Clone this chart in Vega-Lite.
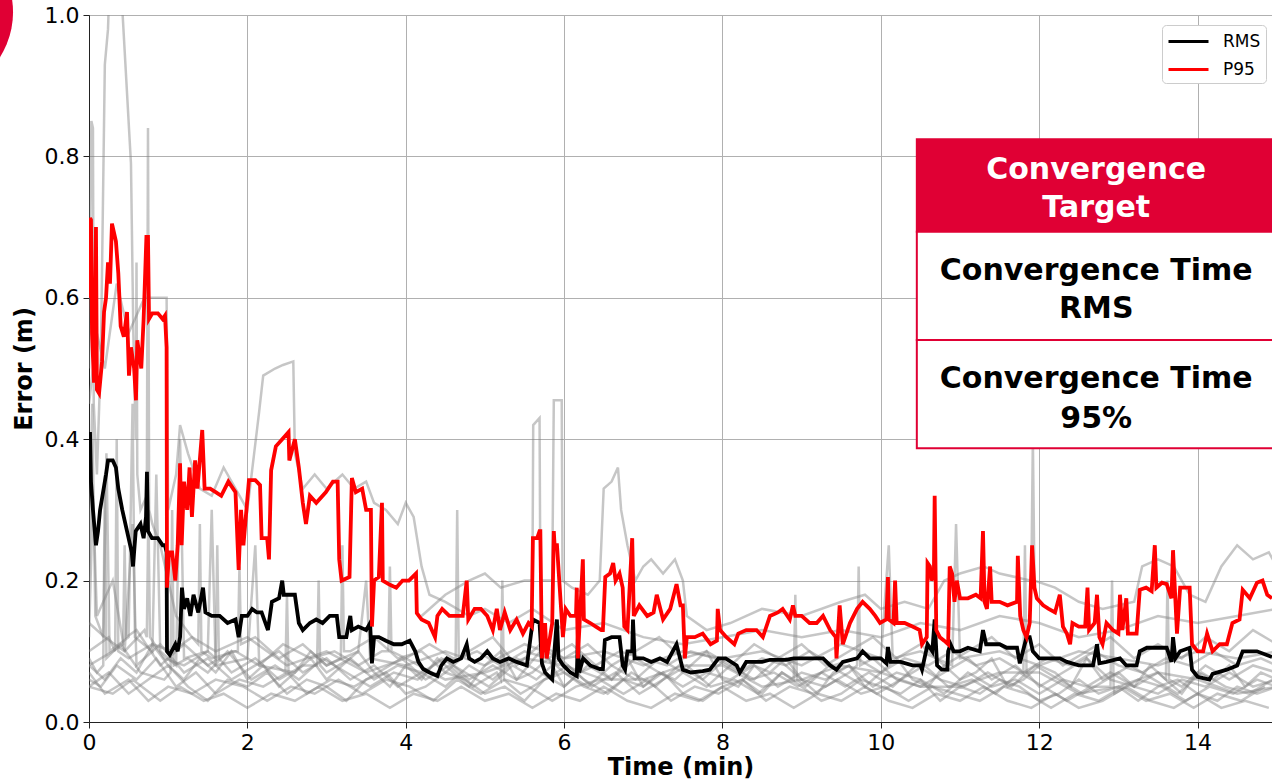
{
"$schema": "https://vega.github.io/schema/vega-lite/v6.json",
"width": 1183, "height": 707,
"autosize": {"type": "none"},
"padding": {"left": 89, "top": 15, "right": 0, "bottom": 60},
"config": {
 "font": "DejaVu Sans",
 "view": {"stroke": "#222222", "strokeWidth": 1},
 "axis": {"labelFont": "DejaVu Sans", "labelFontSize": 22, "labelColor": "#000000", "titleFont": "DejaVu Sans", "titleFontSize": 24, "titleFontWeight": "bold", "titleColor": "#000000", "domainColor": "#222222", "tickColor": "#222222", "tickSize": 6, "gridColor": "#b0b0b0", "gridWidth": 1, "labelPadding": 4}
},
"datasets": {
 "runs": [
{"run":"g1","t":0,"err":0.14},{"run":"g1","t":0.2,"err":0.12},{"run":"g1","t":0.45,"err":0.10},{"run":"g1","t":0.7,"err":0.13},{"run":"g1","t":0.95,"err":0.09},{"run":"g1","t":1.2,"err":0.08},{"run":"g1","t":1.5,"err":0.10},{"run":"g1","t":1.8,"err":0.07},{"run":"g1","t":2.1,"err":0.09},{"run":"g1","t":2.4,"err":0.06},{"run":"g1","t":2.7,"err":0.08},{"run":"g1","t":3.0,"err":0.07},{"run":"g1","t":3.3,"err":0.09},{"run":"g1","t":3.6,"err":0.06},{"run":"g1","t":3.9,"err":0.08},{"run":"g1","t":4.2,"err":0.07},{"run":"g1","t":4.5,"err":0.05},{"run":"g1","t":4.8,"err":0.08},{"run":"g1","t":5.1,"err":0.06},{"run":"g1","t":5.4,"err":0.09},{"run":"g1","t":5.7,"err":0.07},{"run":"g1","t":6.0,"err":0.05},{"run":"g1","t":6.3,"err":0.08},{"run":"g1","t":6.6,"err":0.06},{"run":"g1","t":6.9,"err":0.09},{"run":"g1","t":7.2,"err":0.07},{"run":"g1","t":7.5,"err":0.05},{"run":"g1","t":7.8,"err":0.07},{"run":"g1","t":8.1,"err":0.06},{"run":"g1","t":8.4,"err":0.08},{"run":"g1","t":8.7,"err":0.05},{"run":"g1","t":9.0,"err":0.07},{"run":"g1","t":9.3,"err":0.06},{"run":"g1","t":9.6,"err":0.08},{"run":"g1","t":9.9,"err":0.05},{"run":"g1","t":10.2,"err":0.07},{"run":"g1","t":10.5,"err":0.06},{"run":"g1","t":10.8,"err":0.04},{"run":"g1","t":11.1,"err":0.07},{"run":"g1","t":11.4,"err":0.05},{"run":"g1","t":11.7,"err":0.06},{"run":"g1","t":12.0,"err":0.04},{"run":"g1","t":12.3,"err":0.06},{"run":"g1","t":12.6,"err":0.05},{"run":"g1","t":12.9,"err":0.07},{"run":"g1","t":13.2,"err":0.05},{"run":"g1","t":13.5,"err":0.04},{"run":"g1","t":13.8,"err":0.06},{"run":"g1","t":14.1,"err":0.05},{"run":"g1","t":14.4,"err":0.07},{"run":"g1","t":14.7,"err":0.05},{"run":"g1","t":15.0,"err":0.06},
{"run":"g1","t":0.73,"err":0.12},{"run":"g1","t":0.75,"err":0.30},{"run":"g1","t":0.77,"err":0.12},{"run":"g1","t":1.6,"err":0.09},{"run":"g1","t":1.62,"err":0.25},{"run":"g1","t":1.64,"err":0.09},{"run":"g1","t":2.88,"err":0.08},{"run":"g1","t":2.9,"err":0.2},{"run":"g1","t":2.92,"err":0.08},
{"run":"g2","t":0,"err":0.06},{"run":"g2","t":0.15,"err":0.05},{"run":"g2","t":0.35,"err":0.08},{"run":"g2","t":0.6,"err":0.06},{"run":"g2","t":0.85,"err":0.09},{"run":"g2","t":1.1,"err":0.05},{"run":"g2","t":1.35,"err":0.07},{"run":"g2","t":1.6,"err":0.04},{"run":"g2","t":1.9,"err":0.06},{"run":"g2","t":2.2,"err":0.05},{"run":"g2","t":2.5,"err":0.07},{"run":"g2","t":2.75,"err":0.04},{"run":"g2","t":3.05,"err":0.06},{"run":"g2","t":3.35,"err":0.05},{"run":"g2","t":3.65,"err":0.07},{"run":"g2","t":3.95,"err":0.09},{"run":"g2","t":4.25,"err":0.06},{"run":"g2","t":4.55,"err":0.08},{"run":"g2","t":4.85,"err":0.05},{"run":"g2","t":5.15,"err":0.07},{"run":"g2","t":5.45,"err":0.04},{"run":"g2","t":5.75,"err":0.06},{"run":"g2","t":6.05,"err":0.08},{"run":"g2","t":6.35,"err":0.05},{"run":"g2","t":6.65,"err":0.07},{"run":"g2","t":6.95,"err":0.04},{"run":"g2","t":7.25,"err":0.06},{"run":"g2","t":7.55,"err":0.08},{"run":"g2","t":7.85,"err":0.05},{"run":"g2","t":8.15,"err":0.06},{"run":"g2","t":8.45,"err":0.04},{"run":"g2","t":8.75,"err":0.07},{"run":"g2","t":9.05,"err":0.05},{"run":"g2","t":9.35,"err":0.08},{"run":"g2","t":9.65,"err":0.06},{"run":"g2","t":9.95,"err":0.04},{"run":"g2","t":10.25,"err":0.06},{"run":"g2","t":10.55,"err":0.08},{"run":"g2","t":10.85,"err":0.05},{"run":"g2","t":11.15,"err":0.06},{"run":"g2","t":11.45,"err":0.04},{"run":"g2","t":11.75,"err":0.07},{"run":"g2","t":12.05,"err":0.05},{"run":"g2","t":12.35,"err":0.03},{"run":"g2","t":12.65,"err":0.05},{"run":"g2","t":12.95,"err":0.04},{"run":"g2","t":13.25,"err":0.06},{"run":"g2","t":13.55,"err":0.05},{"run":"g2","t":13.85,"err":0.03},{"run":"g2","t":14.15,"err":0.05},{"run":"g2","t":14.45,"err":0.04},{"run":"g2","t":14.75,"err":0.06},{"run":"g2","t":15.0,"err":0.05},
{"run":"g2","t":5.2,"err":0.06},{"run":"g2","t":5.22,"err":0.2},{"run":"g2","t":5.24,"err":0.06},{"run":"g2","t":8.9,"err":0.06},{"run":"g2","t":8.92,"err":0.18},{"run":"g2","t":8.94,"err":0.06},{"run":"g2","t":12.9,"err":0.05},{"run":"g2","t":12.92,"err":0.2},{"run":"g2","t":12.94,"err":0.05},
{"run":"g3","t":0,"err":0.10},{"run":"g3","t":0.25,"err":0.12},{"run":"g3","t":0.5,"err":0.09},{"run":"g3","t":0.8,"err":0.11},{"run":"g3","t":1.05,"err":0.10},{"run":"g3","t":1.3,"err":0.12},{"run":"g3","t":1.55,"err":0.09},{"run":"g3","t":1.85,"err":0.10},{"run":"g3","t":2.15,"err":0.08},{"run":"g3","t":2.45,"err":0.11},{"run":"g3","t":2.8,"err":0.09},{"run":"g3","t":3.1,"err":0.10},{"run":"g3","t":3.4,"err":0.08},{"run":"g3","t":3.7,"err":0.10},{"run":"g3","t":4.0,"err":0.09},{"run":"g3","t":4.3,"err":0.11},{"run":"g3","t":4.6,"err":0.09},{"run":"g3","t":4.9,"err":0.10},{"run":"g3","t":5.2,"err":0.08},{"run":"g3","t":5.5,"err":0.10},{"run":"g3","t":5.8,"err":0.09},{"run":"g3","t":6.1,"err":0.11},{"run":"g3","t":6.4,"err":0.08},{"run":"g3","t":6.7,"err":0.10},{"run":"g3","t":7.0,"err":0.09},{"run":"g3","t":7.3,"err":0.08},{"run":"g3","t":7.6,"err":0.10},{"run":"g3","t":7.9,"err":0.09},{"run":"g3","t":8.2,"err":0.07},{"run":"g3","t":8.5,"err":0.09},{"run":"g3","t":8.8,"err":0.08},{"run":"g3","t":9.1,"err":0.10},{"run":"g3","t":9.4,"err":0.08},{"run":"g3","t":9.7,"err":0.09},{"run":"g3","t":10.0,"err":0.07},{"run":"g3","t":10.3,"err":0.09},{"run":"g3","t":10.6,"err":0.08},{"run":"g3","t":10.9,"err":0.10},{"run":"g3","t":11.2,"err":0.08},{"run":"g3","t":11.5,"err":0.09},{"run":"g3","t":11.8,"err":0.07},{"run":"g3","t":12.1,"err":0.09},{"run":"g3","t":12.4,"err":0.08},{"run":"g3","t":12.7,"err":0.10},{"run":"g3","t":13.0,"err":0.08},{"run":"g3","t":13.3,"err":0.07},{"run":"g3","t":13.6,"err":0.09},{"run":"g3","t":13.9,"err":0.08},{"run":"g3","t":14.2,"err":0.10},{"run":"g3","t":14.5,"err":0.08},{"run":"g3","t":14.8,"err":0.09},{"run":"g3","t":15.0,"err":0.08},
{"run":"g3","t":0.33,"err":0.1},{"run":"g3","t":0.35,"err":0.4},{"run":"g3","t":0.37,"err":0.1},{"run":"g3","t":1.38,"err":0.11},{"run":"g3","t":1.4,"err":0.28},{"run":"g3","t":1.42,"err":0.1},{"run":"g3","t":3.78,"err":0.1},{"run":"g3","t":3.8,"err":0.22},{"run":"g3","t":3.82,"err":0.1},{"run":"g3","t":4.63,"err":0.09},{"run":"g3","t":4.65,"err":0.3},{"run":"g3","t":4.67,"err":0.09},
{"run":"g4","t":0,"err":0.05},{"run":"g4","t":0.3,"err":0.04},{"run":"g4","t":0.55,"err":0.06},{"run":"g4","t":0.9,"err":0.03},{"run":"g4","t":1.15,"err":0.05},{"run":"g4","t":1.45,"err":0.03},{"run":"g4","t":1.7,"err":0.04},{"run":"g4","t":2.0,"err":0.02},{"run":"g4","t":2.3,"err":0.04},{"run":"g4","t":2.6,"err":0.03},{"run":"g4","t":2.9,"err":0.05},{"run":"g4","t":3.2,"err":0.03},{"run":"g4","t":3.5,"err":0.04},{"run":"g4","t":3.8,"err":0.02},{"run":"g4","t":4.1,"err":0.04},{"run":"g4","t":4.4,"err":0.03},{"run":"g4","t":4.7,"err":0.05},{"run":"g4","t":5.0,"err":0.03},{"run":"g4","t":5.3,"err":0.04},{"run":"g4","t":5.6,"err":0.02},{"run":"g4","t":5.9,"err":0.04},{"run":"g4","t":6.2,"err":0.03},{"run":"g4","t":6.5,"err":0.05},{"run":"g4","t":6.8,"err":0.03},{"run":"g4","t":7.1,"err":0.02},{"run":"g4","t":7.4,"err":0.04},{"run":"g4","t":7.7,"err":0.03},{"run":"g4","t":8.0,"err":0.05},{"run":"g4","t":8.3,"err":0.03},{"run":"g4","t":8.6,"err":0.04},{"run":"g4","t":8.9,"err":0.02},{"run":"g4","t":9.2,"err":0.04},{"run":"g4","t":9.5,"err":0.03},{"run":"g4","t":9.8,"err":0.05},{"run":"g4","t":10.1,"err":0.03},{"run":"g4","t":10.4,"err":0.02},{"run":"g4","t":10.7,"err":0.04},{"run":"g4","t":11.0,"err":0.03},{"run":"g4","t":11.3,"err":0.05},{"run":"g4","t":11.6,"err":0.03},{"run":"g4","t":11.9,"err":0.02},{"run":"g4","t":12.2,"err":0.04},{"run":"g4","t":12.5,"err":0.02},{"run":"g4","t":12.8,"err":0.03},{"run":"g4","t":13.1,"err":0.05},{"run":"g4","t":13.4,"err":0.03},{"run":"g4","t":13.7,"err":0.02},{"run":"g4","t":14.0,"err":0.04},{"run":"g4","t":14.3,"err":0.02},{"run":"g4","t":14.6,"err":0.03},{"run":"g4","t":14.9,"err":0.02},
{"run":"g5","t":0,"err":0.09},{"run":"g5","t":0.1,"err":0.07},{"run":"g5","t":0.4,"err":0.11},{"run":"g5","t":0.65,"err":0.07},{"run":"g5","t":0.95,"err":0.06},{"run":"g5","t":1.25,"err":0.09},{"run":"g5","t":1.5,"err":0.07},{"run":"g5","t":1.75,"err":0.10},{"run":"g5","t":2.05,"err":0.06},{"run":"g5","t":2.35,"err":0.08},{"run":"g5","t":2.65,"err":0.06},{"run":"g5","t":2.95,"err":0.09},{"run":"g5","t":3.25,"err":0.07},{"run":"g5","t":3.55,"err":0.05},{"run":"g5","t":3.85,"err":0.07},{"run":"g5","t":4.15,"err":0.06},{"run":"g5","t":4.45,"err":0.09},{"run":"g5","t":4.75,"err":0.07},{"run":"g5","t":5.05,"err":0.05},{"run":"g5","t":5.35,"err":0.08},{"run":"g5","t":5.65,"err":0.06},{"run":"g5","t":5.95,"err":0.09},{"run":"g5","t":6.25,"err":0.06},{"run":"g5","t":6.55,"err":0.04},{"run":"g5","t":6.85,"err":0.07},{"run":"g5","t":7.15,"err":0.05},{"run":"g5","t":7.45,"err":0.08},{"run":"g5","t":7.75,"err":0.06},{"run":"g5","t":8.05,"err":0.09},{"run":"g5","t":8.35,"err":0.06},{"run":"g5","t":8.65,"err":0.07},{"run":"g5","t":8.95,"err":0.05},{"run":"g5","t":9.25,"err":0.07},{"run":"g5","t":9.55,"err":0.05},{"run":"g5","t":9.85,"err":0.07},{"run":"g5","t":10.15,"err":0.05},{"run":"g5","t":10.45,"err":0.08},{"run":"g5","t":10.75,"err":0.06},{"run":"g5","t":11.05,"err":0.05},{"run":"g5","t":11.35,"err":0.07},{"run":"g5","t":11.65,"err":0.05},{"run":"g5","t":11.95,"err":0.08},{"run":"g5","t":12.25,"err":0.06},{"run":"g5","t":12.55,"err":0.04},{"run":"g5","t":12.85,"err":0.06},{"run":"g5","t":13.15,"err":0.08},{"run":"g5","t":13.45,"err":0.06},{"run":"g5","t":13.75,"err":0.04},{"run":"g5","t":14.05,"err":0.07},{"run":"g5","t":14.35,"err":0.05},{"run":"g5","t":14.65,"err":0.04},{"run":"g5","t":14.95,"err":0.06},
{"run":"g5","t":0.18,"err":0.08},{"run":"g5","t":0.2,"err":0.35},{"run":"g5","t":0.22,"err":0.09},{"run":"g5","t":1.03,"err":0.07},{"run":"g5","t":1.05,"err":0.3},{"run":"g5","t":1.07,"err":0.08},{"run":"g5","t":2.48,"err":0.07},{"run":"g5","t":2.5,"err":0.18},{"run":"g5","t":2.52,"err":0.07},
{"run":"g6","t":0,"err":0.12},{"run":"g6","t":0.05,"err":0.32},{"run":"g6","t":0.1,"err":0.15},{"run":"g6","t":0.3,"err":0.2},{"run":"g6","t":0.45,"err":0.1},{"run":"g6","t":0.55,"err":0.28},{"run":"g6","t":0.6,"err":0.08},{"run":"g6","t":0.9,"err":0.11},{"run":"g6","t":1.2,"err":0.07},{"run":"g6","t":1.5,"err":0.09},{"run":"g6","t":1.8,"err":0.06},{"run":"g6","t":2.1,"err":0.08},{"run":"g6","t":2.4,"err":0.1},{"run":"g6","t":2.7,"err":0.07},{"run":"g6","t":3.0,"err":0.09},{"run":"g6","t":3.3,"err":0.06},{"run":"g6","t":3.6,"err":0.08},{"run":"g6","t":3.9,"err":0.05},{"run":"g6","t":4.2,"err":0.07},{"run":"g6","t":4.5,"err":0.09},{"run":"g6","t":4.8,"err":0.06},{"run":"g6","t":5.1,"err":0.08},{"run":"g6","t":5.4,"err":0.06},{"run":"g6","t":5.7,"err":0.1},{"run":"g6","t":6.0,"err":0.07},{"run":"g6","t":6.3,"err":0.05},{"run":"g6","t":6.6,"err":0.08},{"run":"g6","t":6.9,"err":0.06},{"run":"g6","t":7.2,"err":0.09},{"run":"g6","t":7.5,"err":0.07},{"run":"g6","t":7.8,"err":0.05},{"run":"g6","t":8.1,"err":0.08},{"run":"g6","t":8.4,"err":0.06},{"run":"g6","t":8.7,"err":0.09},{"run":"g6","t":9.0,"err":0.06},{"run":"g6","t":9.3,"err":0.05},{"run":"g6","t":9.6,"err":0.07},{"run":"g6","t":9.9,"err":0.09},{"run":"g6","t":10.2,"err":0.06},{"run":"g6","t":10.5,"err":0.05},{"run":"g6","t":10.8,"err":0.07},{"run":"g6","t":11.1,"err":0.09},{"run":"g6","t":11.4,"err":0.06},{"run":"g6","t":11.7,"err":0.08},{"run":"g6","t":12.0,"err":0.05},{"run":"g6","t":12.3,"err":0.07},{"run":"g6","t":12.6,"err":0.09},{"run":"g6","t":12.9,"err":0.06},{"run":"g6","t":13.2,"err":0.05},{"run":"g6","t":13.5,"err":0.07},{"run":"g6","t":13.8,"err":0.05},{"run":"g6","t":14.1,"err":0.08},{"run":"g6","t":14.4,"err":0.06},{"run":"g6","t":14.7,"err":0.08},{"run":"g6","t":15.0,"err":0.07},
{"run":"g6","t":9.7,"err":0.08},{"run":"g6","t":9.72,"err":0.22},{"run":"g6","t":9.74,"err":0.08},{"run":"g6","t":11.8,"err":0.07},{"run":"g6","t":11.82,"err":0.25},{"run":"g6","t":11.84,"err":0.07},{"run":"g6","t":13.6,"err":0.06},{"run":"g6","t":13.62,"err":0.2},{"run":"g6","t":13.64,"err":0.06},
{"run":"g7","t":0,"err":0.07},{"run":"g7","t":0.2,"err":0.04},{"run":"g7","t":0.5,"err":0.06},{"run":"g7","t":0.75,"err":0.03},{"run":"g7","t":1.0,"err":0.05},{"run":"g7","t":1.3,"err":0.04},{"run":"g7","t":1.6,"err":0.06},{"run":"g7","t":1.95,"err":0.05},{"run":"g7","t":2.25,"err":0.03},{"run":"g7","t":2.55,"err":0.05},{"run":"g7","t":2.85,"err":0.04},{"run":"g7","t":3.15,"err":0.06},{"run":"g7","t":3.45,"err":0.04},{"run":"g7","t":3.75,"err":0.06},{"run":"g7","t":4.05,"err":0.05},{"run":"g7","t":4.35,"err":0.03},{"run":"g7","t":4.65,"err":0.06},{"run":"g7","t":4.95,"err":0.04},{"run":"g7","t":5.25,"err":0.06},{"run":"g7","t":5.55,"err":0.05},{"run":"g7","t":5.85,"err":0.03},{"run":"g7","t":6.15,"err":0.05},{"run":"g7","t":6.45,"err":0.06},{"run":"g7","t":6.75,"err":0.04},{"run":"g7","t":7.05,"err":0.06},{"run":"g7","t":7.35,"err":0.03},{"run":"g7","t":7.65,"err":0.05},{"run":"g7","t":7.95,"err":0.04},{"run":"g7","t":8.25,"err":0.06},{"run":"g7","t":8.55,"err":0.03},{"run":"g7","t":8.85,"err":0.05},{"run":"g7","t":9.15,"err":0.04},{"run":"g7","t":9.45,"err":0.06},{"run":"g7","t":9.75,"err":0.04},{"run":"g7","t":10.05,"err":0.05},{"run":"g7","t":10.35,"err":0.03},{"run":"g7","t":10.65,"err":0.05},{"run":"g7","t":10.95,"err":0.04},{"run":"g7","t":11.25,"err":0.03},{"run":"g7","t":11.55,"err":0.05},{"run":"g7","t":11.85,"err":0.04},{"run":"g7","t":12.15,"err":0.02},{"run":"g7","t":12.45,"err":0.04},{"run":"g7","t":12.75,"err":0.03},{"run":"g7","t":13.05,"err":0.05},{"run":"g7","t":13.35,"err":0.03},{"run":"g7","t":13.65,"err":0.04},{"run":"g7","t":13.95,"err":0.02},{"run":"g7","t":14.25,"err":0.04},{"run":"g7","t":14.55,"err":0.03},{"run":"g7","t":14.85,"err":0.05},
{"run":"g8","t":0,"err":0.08},{"run":"g8","t":0.3,"err":0.1},{"run":"g8","t":0.6,"err":0.13},{"run":"g8","t":0.9,"err":0.08},{"run":"g8","t":1.2,"err":0.11},{"run":"g8","t":1.5,"err":0.08},{"run":"g8","t":1.8,"err":0.1},{"run":"g8","t":2.1,"err":0.12},{"run":"g8","t":2.4,"err":0.09},{"run":"g8","t":2.7,"err":0.11},{"run":"g8","t":3.0,"err":0.08},{"run":"g8","t":3.3,"err":0.1},{"run":"g8","t":3.6,"err":0.12},{"run":"g8","t":3.9,"err":0.09},{"run":"g8","t":4.2,"err":0.1},{"run":"g8","t":4.5,"err":0.07},{"run":"g8","t":4.8,"err":0.1},{"run":"g8","t":5.1,"err":0.12},{"run":"g8","t":5.4,"err":0.08},{"run":"g8","t":5.7,"err":0.11},{"run":"g8","t":6.0,"err":0.09},{"run":"g8","t":6.3,"err":0.11},{"run":"g8","t":6.6,"err":0.08},{"run":"g8","t":6.9,"err":0.1},{"run":"g8","t":7.2,"err":0.12},{"run":"g8","t":7.5,"err":0.09},{"run":"g8","t":7.8,"err":0.1},{"run":"g8","t":8.1,"err":0.08},{"run":"g8","t":8.4,"err":0.11},{"run":"g8","t":8.7,"err":0.09},{"run":"g8","t":9.0,"err":0.11},{"run":"g8","t":9.3,"err":0.08},{"run":"g8","t":9.6,"err":0.1},{"run":"g8","t":9.9,"err":0.12},{"run":"g8","t":10.2,"err":0.09},{"run":"g8","t":10.5,"err":0.11},{"run":"g8","t":10.8,"err":0.08},{"run":"g8","t":11.1,"err":0.1},{"run":"g8","t":11.4,"err":0.12},{"run":"g8","t":11.7,"err":0.09},{"run":"g8","t":12.0,"err":0.11},{"run":"g8","t":12.3,"err":0.08},{"run":"g8","t":12.6,"err":0.1},{"run":"g8","t":12.9,"err":0.12},{"run":"g8","t":13.2,"err":0.09},{"run":"g8","t":13.5,"err":0.11},{"run":"g8","t":13.8,"err":0.09},{"run":"g8","t":14.1,"err":0.12},{"run":"g8","t":14.4,"err":0.1},{"run":"g8","t":14.7,"err":0.13},{"run":"g8","t":15.0,"err":0.11},
{"run":"g8","t":0.43,"err":0.11},{"run":"g8","t":0.45,"err":0.25},{"run":"g8","t":0.47,"err":0.12},{"run":"g8","t":1.88,"err":0.1},{"run":"g8","t":1.9,"err":0.22},{"run":"g8","t":1.92,"err":0.11},{"run":"g8","t":3.18,"err":0.09},{"run":"g8","t":3.2,"err":0.25},{"run":"g8","t":3.22,"err":0.1},
{"run":"g9","t":0,"err":0.08},{"run":"g9","t":0.2,"err":0.06},{"run":"g9","t":0.4,"err":0.09},{"run":"g9","t":0.6,"err":0.07},{"run":"g9","t":0.8,"err":0.11},{"run":"g9","t":1.0,"err":0.08},{"run":"g9","t":1.2,"err":0.06},{"run":"g9","t":1.4,"err":0.09},{"run":"g9","t":1.6,"err":0.07},{"run":"g9","t":1.8,"err":0.1},{"run":"g9","t":2.0,"err":0.06},{"run":"g9","t":2.2,"err":0.08},{"run":"g9","t":2.4,"err":0.05},{"run":"g9","t":2.6,"err":0.07},{"run":"g9","t":2.8,"err":0.09},{"run":"g9","t":3.0,"err":0.06},{"run":"g9","t":3.2,"err":0.08},{"run":"g9","t":3.4,"err":0.1},{"run":"g9","t":3.6,"err":0.07},{"run":"g9","t":3.8,"err":0.05},{"run":"g9","t":4.0,"err":0.08},{"run":"g9","t":4.2,"err":0.06},{"run":"g9","t":4.4,"err":0.09},{"run":"g9","t":4.6,"err":0.07},{"run":"g9","t":4.8,"err":0.05},{"run":"g9","t":5.0,"err":0.08},{"run":"g9","t":5.2,"err":0.1},{"run":"g9","t":5.4,"err":0.06},{"run":"g9","t":5.6,"err":0.07},{"run":"g9","t":5.8,"err":0.09},{"run":"g9","t":6.0,"err":0.05},{"run":"g9","t":6.2,"err":0.07},{"run":"g9","t":6.4,"err":0.08},{"run":"g9","t":6.6,"err":0.06},{"run":"g9","t":6.8,"err":0.09},{"run":"g9","t":7.0,"err":0.05},{"run":"g9","t":7.2,"err":0.07},{"run":"g9","t":7.4,"err":0.06},{"run":"g9","t":7.6,"err":0.08},{"run":"g9","t":7.8,"err":0.1},{"run":"g9","t":8.0,"err":0.06},{"run":"g9","t":8.2,"err":0.05},{"run":"g9","t":8.4,"err":0.08},{"run":"g9","t":8.6,"err":0.07},{"run":"g9","t":8.8,"err":0.09},{"run":"g9","t":9.0,"err":0.06},{"run":"g9","t":9.2,"err":0.04},{"run":"g9","t":9.4,"err":0.07},{"run":"g9","t":9.6,"err":0.08},{"run":"g9","t":9.8,"err":0.05},{"run":"g9","t":10.0,"err":0.07},{"run":"g9","t":10.2,"err":0.09},{"run":"g9","t":10.4,"err":0.06},{"run":"g9","t":10.6,"err":0.05},{"run":"g9","t":10.8,"err":0.08},{"run":"g9","t":11.0,"err":0.06},{"run":"g9","t":11.2,"err":0.07},{"run":"g9","t":11.4,"err":0.09},{"run":"g9","t":11.6,"err":0.05},{"run":"g9","t":11.8,"err":0.06},{"run":"g9","t":12.0,"err":0.08},{"run":"g9","t":12.2,"err":0.07},{"run":"g9","t":12.4,"err":0.05},{"run":"g9","t":12.6,"err":0.09},{"run":"g9","t":12.8,"err":0.06},{"run":"g9","t":13.0,"err":0.07},{"run":"g9","t":13.2,"err":0.05},{"run":"g9","t":13.4,"err":0.08},{"run":"g9","t":13.6,"err":0.06},{"run":"g9","t":13.8,"err":0.04},{"run":"g9","t":14.0,"err":0.07},{"run":"g9","t":14.2,"err":0.06},{"run":"g9","t":14.4,"err":0.08},{"run":"g9","t":14.6,"err":0.05},{"run":"g9","t":14.8,"err":0.07},{"run":"g9","t":15.0,"err":0.06},
{"run":"g10","t":0,"err":0.05},{"run":"g10","t":0.25,"err":0.07},{"run":"g10","t":0.5,"err":0.04},{"run":"g10","t":0.75,"err":0.06},{"run":"g10","t":1.0,"err":0.08},{"run":"g10","t":1.25,"err":0.05},{"run":"g10","t":1.5,"err":0.03},{"run":"g10","t":1.75,"err":0.06},{"run":"g10","t":2.0,"err":0.05},{"run":"g10","t":2.25,"err":0.07},{"run":"g10","t":2.5,"err":0.04},{"run":"g10","t":2.75,"err":0.06},{"run":"g10","t":3.0,"err":0.05},{"run":"g10","t":3.25,"err":0.03},{"run":"g10","t":3.5,"err":0.06},{"run":"g10","t":3.75,"err":0.07},{"run":"g10","t":4.0,"err":0.04},{"run":"g10","t":4.25,"err":0.05},{"run":"g10","t":4.5,"err":0.07},{"run":"g10","t":4.75,"err":0.06},{"run":"g10","t":5.0,"err":0.04},{"run":"g10","t":5.25,"err":0.05},{"run":"g10","t":5.5,"err":0.03},{"run":"g10","t":5.75,"err":0.06},{"run":"g10","t":6.0,"err":0.07},{"run":"g10","t":6.25,"err":0.05},{"run":"g10","t":6.5,"err":0.04},{"run":"g10","t":6.75,"err":0.06},{"run":"g10","t":7.0,"err":0.05},{"run":"g10","t":7.25,"err":0.07},{"run":"g10","t":7.5,"err":0.04},{"run":"g10","t":7.75,"err":0.03},{"run":"g10","t":8.0,"err":0.05},{"run":"g10","t":8.25,"err":0.06},{"run":"g10","t":8.5,"err":0.04},{"run":"g10","t":8.75,"err":0.07},{"run":"g10","t":9.0,"err":0.05},{"run":"g10","t":9.25,"err":0.03},{"run":"g10","t":9.5,"err":0.04},{"run":"g10","t":9.75,"err":0.06},{"run":"g10","t":10.0,"err":0.05},{"run":"g10","t":10.25,"err":0.04},{"run":"g10","t":10.5,"err":0.06},{"run":"g10","t":10.75,"err":0.03},{"run":"g10","t":11.0,"err":0.05},{"run":"g10","t":11.25,"err":0.04},{"run":"g10","t":11.5,"err":0.06},{"run":"g10","t":11.75,"err":0.05},{"run":"g10","t":12.0,"err":0.03},{"run":"g10","t":12.25,"err":0.04},{"run":"g10","t":12.5,"err":0.06},{"run":"g10","t":12.75,"err":0.04},{"run":"g10","t":13.0,"err":0.05},{"run":"g10","t":13.25,"err":0.03},{"run":"g10","t":13.5,"err":0.05},{"run":"g10","t":13.75,"err":0.06},{"run":"g10","t":14.0,"err":0.04},{"run":"g10","t":14.25,"err":0.03},{"run":"g10","t":14.5,"err":0.05},{"run":"g10","t":14.75,"err":0.04},{"run":"g10","t":15.0,"err":0.05},
{"run":"h1","t":0,"err":0.5},{"run":"h1","t":0.03,"err":0.85},{"run":"h1","t":0.05,"err":0.84},{"run":"h1","t":0.06,"err":0.45},{"run":"h1","t":0.1,"err":0.35},{"run":"h1","t":0.15,"err":0.52},{"run":"h1","t":0.2,"err":0.93},{"run":"h1","t":0.24,"err":0.98},{"run":"h1","t":0.26,"err":1.05},{"run":"h1","t":0.4,"err":1.05},{"run":"h1","t":0.53,"err":0.79},{"run":"h1","t":0.56,"err":0.55},{"run":"h1","t":0.59,"err":0.4},{"run":"h1","t":0.6,"err":0.65},{"run":"h1","t":0.61,"err":0.35},{"run":"h1","t":0.65,"err":0.3},{"run":"h1","t":0.73,"err":0.32},{"run":"h1","t":0.745,"err":0.84},{"run":"h1","t":0.76,"err":0.3},{"run":"h1","t":0.8,"err":0.28},{"run":"h1","t":0.9,"err":0.25},{"run":"h1","t":1.0,"err":0.2},{"run":"h1","t":1.1,"err":0.15},{"run":"h1","t":1.3,"err":0.12},{"run":"h1","t":1.6,"err":0.1},{"run":"h1","t":2.0,"err":0.12},{"run":"h1","t":2.5,"err":0.08},{"run":"h1","t":3.0,"err":0.1},{"run":"h1","t":3.5,"err":0.07},{"run":"h1","t":4.0,"err":0.09},{"run":"h1","t":4.5,"err":0.06},{"run":"h1","t":5.0,"err":0.07},{"run":"h1","t":5.5,"err":0.09},{"run":"h1","t":6.0,"err":0.08},{"run":"h1","t":6.5,"err":0.06},{"run":"h1","t":7.0,"err":0.06},{"run":"h1","t":7.5,"err":0.08},{"run":"h1","t":8.0,"err":0.08},{"run":"h1","t":8.5,"err":0.05},{"run":"h1","t":9.0,"err":0.06},{"run":"h1","t":9.5,"err":0.08},{"run":"h1","t":10.0,"err":0.07},{"run":"h1","t":10.5,"err":0.05},{"run":"h1","t":11.0,"err":0.05},{"run":"h1","t":11.5,"err":0.07},{"run":"h1","t":12.0,"err":0.07},{"run":"h1","t":12.5,"err":0.04},{"run":"h1","t":13.0,"err":0.05},{"run":"h1","t":13.5,"err":0.07},{"run":"h1","t":14.0,"err":0.06},{"run":"h1","t":14.5,"err":0.04},{"run":"h1","t":15.0,"err":0.05},
{"run":"h2","t":0,"err":0.45},{"run":"h2","t":0.1,"err":0.55},{"run":"h2","t":0.2,"err":0.5},{"run":"h2","t":0.35,"err":0.62},{"run":"h2","t":0.5,"err":0.55},{"run":"h2","t":0.7,"err":0.6},{"run":"h2","t":0.8,"err":0.6},{"run":"h2","t":0.98,"err":0.6},{"run":"h2","t":1.0,"err":0.3},{"run":"h2","t":1.1,"err":0.35},{"run":"h2","t":1.15,"err":0.42},{"run":"h2","t":1.25,"err":0.38},{"run":"h2","t":1.4,"err":0.33},{"run":"h2","t":1.55,"err":0.32},{"run":"h2","t":1.7,"err":0.36},{"run":"h2","t":1.85,"err":0.33},{"run":"h2","t":2.0,"err":0.30},{"run":"h2","t":2.15,"err":0.44},{"run":"h2","t":2.2,"err":0.49},{"run":"h2","t":2.35,"err":0.50},{"run":"h2","t":2.45,"err":0.505},{"run":"h2","t":2.58,"err":0.51},{"run":"h2","t":2.6,"err":0.38},{"run":"h2","t":2.7,"err":0.33},{"run":"h2","t":2.85,"err":0.35},{"run":"h2","t":3.0,"err":0.33},{"run":"h2","t":3.2,"err":0.35},{"run":"h2","t":3.35,"err":0.33},{"run":"h2","t":3.5,"err":0.34},{"run":"h2","t":3.6,"err":0.31},{"run":"h2","t":3.75,"err":0.30},{"run":"h2","t":3.9,"err":0.28},{"run":"h2","t":4.0,"err":0.31},{"run":"h2","t":4.1,"err":0.29},{"run":"h2","t":4.2,"err":0.22},{"run":"h2","t":4.3,"err":0.18},{"run":"h2","t":4.5,"err":0.17},{"run":"h2","t":4.8,"err":0.15},{"run":"h2","t":5.0,"err":0.16},{"run":"h2","t":5.3,"err":0.14},{"run":"h2","t":5.6,"err":0.16},{"run":"h2","t":6.0,"err":0.13},{"run":"h2","t":6.5,"err":0.14},{"run":"h2","t":7.0,"err":0.12},{"run":"h2","t":7.5,"err":0.11},{"run":"h2","t":8.0,"err":0.12},{"run":"h2","t":8.5,"err":0.13},{"run":"h2","t":9.0,"err":0.12},{"run":"h2","t":9.5,"err":0.13},{"run":"h2","t":10.0,"err":0.12},{"run":"h2","t":10.5,"err":0.14},{"run":"h2","t":11.0,"err":0.13},{"run":"h2","t":11.5,"err":0.15},{"run":"h2","t":12.0,"err":0.14},{"run":"h2","t":12.5,"err":0.12},{"run":"h2","t":13.0,"err":0.13},{"run":"h2","t":13.5,"err":0.15},{"run":"h2","t":14.0,"err":0.14},{"run":"h2","t":14.5,"err":0.15},{"run":"h2","t":15.0,"err":0.16},
{"run":"h3","t":4.2,"err":0.15},{"run":"h3","t":4.5,"err":0.18},{"run":"h3","t":4.8,"err":0.2},{"run":"h3","t":5.0,"err":0.21},{"run":"h3","t":5.2,"err":0.19},{"run":"h3","t":5.5,"err":0.2},{"run":"h3","t":5.6,"err":0.2},{"run":"h3","t":5.61,"err":0.42},{"run":"h3","t":5.69,"err":0.43},{"run":"h3","t":5.7,"err":0.2},{"run":"h3","t":5.85,"err":0.2},{"run":"h3","t":5.87,"err":0.455},{"run":"h3","t":5.97,"err":0.455},{"run":"h3","t":5.98,"err":0.2},{"run":"h3","t":6.1,"err":0.19},{"run":"h3","t":6.3,"err":0.18},{"run":"h3","t":6.45,"err":0.2},{"run":"h3","t":6.5,"err":0.33},{"run":"h3","t":6.6,"err":0.34},{"run":"h3","t":6.68,"err":0.36},{"run":"h3","t":6.72,"err":0.3},{"run":"h3","t":6.8,"err":0.25},{"run":"h3","t":6.9,"err":0.2},{"run":"h3","t":7.0,"err":0.22},{"run":"h3","t":7.1,"err":0.23},{"run":"h3","t":7.25,"err":0.21},{"run":"h3","t":7.4,"err":0.23},{"run":"h3","t":7.5,"err":0.2},{"run":"h3","t":7.55,"err":0.15},{"run":"h3","t":7.8,"err":0.13},{"run":"h3","t":8.1,"err":0.14},{"run":"h3","t":8.5,"err":0.16},{"run":"h3","t":9.0,"err":0.15},{"run":"h3","t":9.5,"err":0.17},{"run":"h3","t":9.8,"err":0.18},{"run":"h3","t":10.0,"err":0.16},{"run":"h3","t":10.3,"err":0.17},{"run":"h3","t":10.6,"err":0.16},{"run":"h3","t":10.8,"err":0.2},{"run":"h3","t":11.0,"err":0.21},{"run":"h3","t":11.3,"err":0.22},{"run":"h3","t":11.5,"err":0.21},{"run":"h3","t":11.9,"err":0.2},{"run":"h3","t":11.92,"err":0.4},{"run":"h3","t":11.94,"err":0.2},{"run":"h3","t":12.2,"err":0.19},{"run":"h3","t":12.5,"err":0.17},{"run":"h3","t":12.8,"err":0.16},{"run":"h3","t":13.2,"err":0.17},{"run":"h3","t":13.3,"err":0.22},{"run":"h3","t":13.5,"err":0.23},{"run":"h3","t":13.7,"err":0.22},{"run":"h3","t":13.9,"err":0.18},{"run":"h3","t":14.1,"err":0.17},{"run":"h3","t":14.3,"err":0.22},{"run":"h3","t":14.5,"err":0.25},{"run":"h3","t":14.7,"err":0.23},{"run":"h3","t":14.9,"err":0.24},{"run":"h3","t":15.0,"err":0.22},
{"run":"h4","t":0,"err":0.2},{"run":"h4","t":0.04,"err":0.45},{"run":"h4","t":0.08,"err":0.15},{"run":"h4","t":0.18,"err":0.12},{"run":"h4","t":0.22,"err":0.38},{"run":"h4","t":0.26,"err":0.1},{"run":"h4","t":0.5,"err":0.12},{"run":"h4","t":0.55,"err":0.45},{"run":"h4","t":0.58,"err":0.12},{"run":"h4","t":0.8,"err":0.1},{"run":"h4","t":0.85,"err":0.35},{"run":"h4","t":0.9,"err":0.1},{"run":"h4","t":1.1,"err":0.08},{"run":"h4","t":1.15,"err":0.4},{"run":"h4","t":1.2,"err":0.09},{"run":"h4","t":1.5,"err":0.1},{"run":"h4","t":1.55,"err":0.3},{"run":"h4","t":1.6,"err":0.08},{"run":"h4","t":2.0,"err":0.09},{"run":"h4","t":2.1,"err":0.25},{"run":"h4","t":2.15,"err":0.08},{"run":"h4","t":2.6,"err":0.07},{"run":"h4","t":2.8,"err":0.1},{"run":"h4","t":3.0,"err":0.08},{"run":"h4","t":3.4,"err":0.1},{"run":"h4","t":3.5,"err":0.2},{"run":"h4","t":3.55,"err":0.09},{"run":"h4","t":4.0,"err":0.08},{"run":"h4","t":4.5,"err":0.1},{"run":"h4","t":5.0,"err":0.08},{"run":"h4","t":5.5,"err":0.11},{"run":"h4","t":6.0,"err":0.09},{"run":"h4","t":6.5,"err":0.1},{"run":"h4","t":7.0,"err":0.08},{"run":"h4","t":7.5,"err":0.1},{"run":"h4","t":8.0,"err":0.09},{"run":"h4","t":8.5,"err":0.1},{"run":"h4","t":9.0,"err":0.08},{"run":"h4","t":9.5,"err":0.11},{"run":"h4","t":10.0,"err":0.09},{"run":"h4","t":10.1,"err":0.25},{"run":"h4","t":10.15,"err":0.09},{"run":"h4","t":10.5,"err":0.1},{"run":"h4","t":10.9,"err":0.08},{"run":"h4","t":10.95,"err":0.28},{"run":"h4","t":11.0,"err":0.09},{"run":"h4","t":11.5,"err":0.1},{"run":"h4","t":12.0,"err":0.08},{"run":"h4","t":12.5,"err":0.1},{"run":"h4","t":13.0,"err":0.09},{"run":"h4","t":13.5,"err":0.08},{"run":"h4","t":14.0,"err":0.1},{"run":"h4","t":14.5,"err":0.09},{"run":"h4","t":15.0,"err":0.1}
 ],
 "stats": [
{"series":"RMS","t":0,"err":0.38},{"series":"RMS","t":0.013,"err":0.41},{"series":"RMS","t":0.025,"err":0.34},{"series":"RMS","t":0.05,"err":0.30},{"series":"RMS","t":0.088,"err":0.25},{"series":"RMS","t":0.114,"err":0.27},{"series":"RMS","t":0.14,"err":0.30},{"series":"RMS","t":0.215,"err":0.35},{"series":"RMS","t":0.24,"err":0.37},{"series":"RMS","t":0.30,"err":0.37},{"series":"RMS","t":0.34,"err":0.36},{"series":"RMS","t":0.37,"err":0.33},{"series":"RMS","t":0.42,"err":0.30},{"series":"RMS","t":0.48,"err":0.27},{"series":"RMS","t":0.54,"err":0.24},{"series":"RMS","t":0.556,"err":0.22},{"series":"RMS","t":0.59,"err":0.27},{"series":"RMS","t":0.65,"err":0.28},{"series":"RMS","t":0.69,"err":0.26},{"series":"RMS","t":0.72,"err":0.29},{"series":"RMS","t":0.732,"err":0.354},{"series":"RMS","t":0.745,"err":0.27},{"series":"RMS","t":0.795,"err":0.26},{"series":"RMS","t":0.87,"err":0.26},{"series":"RMS","t":0.93,"err":0.25},{"series":"RMS","t":0.96,"err":0.25},{"series":"RMS","t":0.98,"err":0.24},{"series":"RMS","t":0.985,"err":0.10},{"series":"RMS","t":1.02,"err":0.095},{"series":"RMS","t":1.09,"err":0.11},{"series":"RMS","t":1.12,"err":0.10},{"series":"RMS","t":1.15,"err":0.12},{"series":"RMS","t":1.174,"err":0.19},{"series":"RMS","t":1.20,"err":0.16},{"series":"RMS","t":1.24,"err":0.175},{"series":"RMS","t":1.28,"err":0.15},{"series":"RMS","t":1.32,"err":0.18},{"series":"RMS","t":1.38,"err":0.155},{"series":"RMS","t":1.44,"err":0.19},{"series":"RMS","t":1.47,"err":0.155},{"series":"RMS","t":1.55,"err":0.15},{"series":"RMS","t":1.65,"err":0.15},{"series":"RMS","t":1.75,"err":0.14},{"series":"RMS","t":1.85,"err":0.145},{"series":"RMS","t":1.89,"err":0.12},{"series":"RMS","t":1.93,"err":0.15},{"series":"RMS","t":2.0,"err":0.15},{"series":"RMS","t":2.06,"err":0.16},{"series":"RMS","t":2.12,"err":0.155},{"series":"RMS","t":2.18,"err":0.155},{"series":"RMS","t":2.26,"err":0.13},{"series":"RMS","t":2.31,"err":0.17},{"series":"RMS","t":2.40,"err":0.175},{"series":"RMS","t":2.44,"err":0.20},{"series":"RMS","t":2.46,"err":0.18},{"series":"RMS","t":2.55,"err":0.18},{"series":"RMS","t":2.60,"err":0.18},{"series":"RMS","t":2.65,"err":0.14},{"series":"RMS","t":2.70,"err":0.13},{"series":"RMS","t":2.79,"err":0.14},{"series":"RMS","t":2.87,"err":0.145},{"series":"RMS","t":2.95,"err":0.14},{"series":"RMS","t":3.04,"err":0.15},{"series":"RMS","t":3.13,"err":0.15},{"series":"RMS","t":3.16,"err":0.12},{"series":"RMS","t":3.25,"err":0.12},{"series":"RMS","t":3.30,"err":0.15},{"series":"RMS","t":3.32,"err":0.13},{"series":"RMS","t":3.40,"err":0.135},{"series":"RMS","t":3.50,"err":0.13},{"series":"RMS","t":3.55,"err":0.14},{"series":"RMS","t":3.573,"err":0.083},{"series":"RMS","t":3.60,"err":0.12},{"series":"RMS","t":3.66,"err":0.12},{"series":"RMS","t":3.75,"err":0.115},{"series":"RMS","t":3.85,"err":0.11},{"series":"RMS","t":3.95,"err":0.11},{"series":"RMS","t":4.05,"err":0.115},{"series":"RMS","t":4.12,"err":0.10},{"series":"RMS","t":4.16,"err":0.085},{"series":"RMS","t":4.22,"err":0.075},{"series":"RMS","t":4.30,"err":0.07},{"series":"RMS","t":4.40,"err":0.065},{"series":"RMS","t":4.45,"err":0.08},{"series":"RMS","t":4.52,"err":0.09},{"series":"RMS","t":4.60,"err":0.085},{"series":"RMS","t":4.70,"err":0.09},{"series":"RMS","t":4.77,"err":0.11},{"series":"RMS","t":4.80,"err":0.09},{"series":"RMS","t":4.87,"err":0.085},{"series":"RMS","t":4.95,"err":0.09},{"series":"RMS","t":5.03,"err":0.10},{"series":"RMS","t":5.10,"err":0.09},{"series":"RMS","t":5.19,"err":0.085},{"series":"RMS","t":5.30,"err":0.09},{"series":"RMS","t":5.40,"err":0.085},{"series":"RMS","t":5.53,"err":0.08},{"series":"RMS","t":5.606,"err":0.145},{"series":"RMS","t":5.69,"err":0.14},{"series":"RMS","t":5.72,"err":0.083},{"series":"RMS","t":5.76,"err":0.07},{"series":"RMS","t":5.85,"err":0.06},{"series":"RMS","t":5.909,"err":0.145},{"series":"RMS","t":5.93,"err":0.09},{"series":"RMS","t":5.99,"err":0.08},{"series":"RMS","t":6.08,"err":0.07},{"series":"RMS","t":6.16,"err":0.065},{"series":"RMS","t":6.174,"err":0.12},{"series":"RMS","t":6.19,"err":0.07},{"series":"RMS","t":6.24,"err":0.09},{"series":"RMS","t":6.33,"err":0.08},{"series":"RMS","t":6.45,"err":0.075},{"series":"RMS","t":6.49,"err":0.075},{"series":"RMS","t":6.515,"err":0.116},{"series":"RMS","t":6.60,"err":0.12},{"series":"RMS","t":6.70,"err":0.12},{"series":"RMS","t":6.74,"err":0.08},{"series":"RMS","t":6.77,"err":0.074},{"series":"RMS","t":6.80,"err":0.10},{"series":"RMS","t":6.86,"err":0.10},{"series":"RMS","t":6.87,"err":0.145},{"series":"RMS","t":6.89,"err":0.09},{"series":"RMS","t":7.0,"err":0.09},{"series":"RMS","t":7.10,"err":0.085},{"series":"RMS","t":7.21,"err":0.09},{"series":"RMS","t":7.30,"err":0.085},{"series":"RMS","t":7.42,"err":0.11},{"series":"RMS","t":7.50,"err":0.074},{"series":"RMS","t":7.60,"err":0.07},{"series":"RMS","t":7.75,"err":0.072},{"series":"RMS","t":7.84,"err":0.074},{"series":"RMS","t":7.95,"err":0.09},{"series":"RMS","t":8.04,"err":0.09},{"series":"RMS","t":8.18,"err":0.08},{"series":"RMS","t":8.22,"err":0.07},{"series":"RMS","t":8.30,"err":0.085},{"series":"RMS","t":8.50,"err":0.085},{"series":"RMS","t":8.60,"err":0.088},{"series":"RMS","t":8.80,"err":0.088},{"series":"RMS","t":8.90,"err":0.09},{"series":"RMS","t":9.10,"err":0.09},{"series":"RMS","t":9.27,"err":0.09},{"series":"RMS","t":9.36,"err":0.08},{"series":"RMS","t":9.44,"err":0.074},{"series":"RMS","t":9.52,"err":0.085},{"series":"RMS","t":9.70,"err":0.09},{"series":"RMS","t":9.77,"err":0.10},{"series":"RMS","t":9.86,"err":0.09},{"series":"RMS","t":10.0,"err":0.09},{"series":"RMS","t":10.07,"err":0.083},{"series":"RMS","t":10.09,"err":0.106},{"series":"RMS","t":10.12,"err":0.085},{"series":"RMS","t":10.25,"err":0.085},{"series":"RMS","t":10.40,"err":0.08},{"series":"RMS","t":10.50,"err":0.08},{"series":"RMS","t":10.52,"err":0.074},{"series":"RMS","t":10.59,"err":0.11},{"series":"RMS","t":10.65,"err":0.10},{"series":"RMS","t":10.68,"err":0.145},{"series":"RMS","t":10.71,"err":0.08},{"series":"RMS","t":10.77,"err":0.074},{"series":"RMS","t":10.84,"err":0.074},{"series":"RMS","t":10.85,"err":0.10},{"series":"RMS","t":10.88,"err":0.11},{"series":"RMS","t":10.92,"err":0.10},{"series":"RMS","t":11.0,"err":0.10},{"series":"RMS","t":11.10,"err":0.105},{"series":"RMS","t":11.25,"err":0.10},{"series":"RMS","t":11.29,"err":0.13},{"series":"RMS","t":11.33,"err":0.11},{"series":"RMS","t":11.45,"err":0.11},{"series":"RMS","t":11.50,"err":0.11},{"series":"RMS","t":11.59,"err":0.105},{"series":"RMS","t":11.72,"err":0.105},{"series":"RMS","t":11.755,"err":0.083},{"series":"RMS","t":11.84,"err":0.12},{"series":"RMS","t":11.88,"err":0.12},{"series":"RMS","t":11.92,"err":0.10},{"series":"RMS","t":12.0,"err":0.09},{"series":"RMS","t":12.1,"err":0.09},{"series":"RMS","t":12.26,"err":0.09},{"series":"RMS","t":12.35,"err":0.085},{"series":"RMS","t":12.50,"err":0.08},{"series":"RMS","t":12.68,"err":0.08},{"series":"RMS","t":12.73,"err":0.11},{"series":"RMS","t":12.76,"err":0.083},{"series":"RMS","t":12.85,"err":0.085},{"series":"RMS","t":13.02,"err":0.09},{"series":"RMS","t":13.10,"err":0.08},{"series":"RMS","t":13.23,"err":0.08},{"series":"RMS","t":13.27,"err":0.10},{"series":"RMS","t":13.36,"err":0.105},{"series":"RMS","t":13.52,"err":0.105},{"series":"RMS","t":13.61,"err":0.105},{"series":"RMS","t":13.67,"err":0.085},{"series":"RMS","t":13.69,"err":0.12},{"series":"RMS","t":13.72,"err":0.09},{"series":"RMS","t":13.78,"err":0.10},{"series":"RMS","t":13.90,"err":0.105},{"series":"RMS","t":13.93,"err":0.074},{"series":"RMS","t":14.0,"err":0.064},{"series":"RMS","t":14.07,"err":0.062},{"series":"RMS","t":14.15,"err":0.06},{"series":"RMS","t":14.19,"err":0.068},{"series":"RMS","t":14.37,"err":0.074},{"series":"RMS","t":14.50,"err":0.08},{"series":"RMS","t":14.57,"err":0.10},{"series":"RMS","t":14.75,"err":0.10},{"series":"RMS","t":14.94,"err":0.092},
{"series":"P95","t":0,"err":0.60},{"series":"P95","t":0.013,"err":0.713},{"series":"P95","t":0.025,"err":0.71},{"series":"P95","t":0.038,"err":0.55},{"series":"P95","t":0.063,"err":0.48},{"series":"P95","t":0.088,"err":0.70},{"series":"P95","t":0.1,"err":0.47},{"series":"P95","t":0.127,"err":0.465},{"series":"P95","t":0.165,"err":0.51},{"series":"P95","t":0.19,"err":0.58},{"series":"P95","t":0.215,"err":0.60},{"series":"P95","t":0.24,"err":0.65},{"series":"P95","t":0.265,"err":0.62},{"series":"P95","t":0.29,"err":0.705},{"series":"P95","t":0.34,"err":0.68},{"series":"P95","t":0.37,"err":0.635},{"series":"P95","t":0.40,"err":0.56},{"series":"P95","t":0.44,"err":0.545},{"series":"P95","t":0.48,"err":0.58},{"series":"P95","t":0.505,"err":0.49},{"series":"P95","t":0.53,"err":0.53},{"series":"P95","t":0.57,"err":0.50},{"series":"P95","t":0.593,"err":0.455},{"series":"P95","t":0.61,"err":0.54},{"series":"P95","t":0.66,"err":0.50},{"series":"P95","t":0.69,"err":0.57},{"series":"P95","t":0.725,"err":0.686},{"series":"P95","t":0.745,"err":0.686},{"series":"P95","t":0.758,"err":0.57},{"series":"P95","t":0.80,"err":0.578},{"series":"P95","t":0.87,"err":0.578},{"series":"P95","t":0.93,"err":0.57},{"series":"P95","t":0.96,"err":0.575},{"series":"P95","t":0.98,"err":0.53},{"series":"P95","t":0.985,"err":0.19},{"series":"P95","t":1.01,"err":0.24},{"series":"P95","t":1.05,"err":0.24},{"series":"P95","t":1.09,"err":0.20},{"series":"P95","t":1.12,"err":0.25},{"series":"P95","t":1.15,"err":0.366},{"series":"P95","t":1.17,"err":0.25},{"series":"P95","t":1.2,"err":0.34},{"series":"P95","t":1.24,"err":0.30},{"series":"P95","t":1.27,"err":0.36},{"series":"P95","t":1.30,"err":0.29},{"series":"P95","t":1.34,"err":0.37},{"series":"P95","t":1.37,"err":0.33},{"series":"P95","t":1.43,"err":0.413},{"series":"P95","t":1.46,"err":0.33},{"series":"P95","t":1.53,"err":0.33},{"series":"P95","t":1.6,"err":0.325},{"series":"P95","t":1.67,"err":0.32},{"series":"P95","t":1.76,"err":0.34},{"series":"P95","t":1.85,"err":0.325},{"series":"P95","t":1.89,"err":0.215},{"series":"P95","t":1.92,"err":0.30},{"series":"P95","t":1.95,"err":0.25},{"series":"P95","t":2.02,"err":0.342},{"series":"P95","t":2.1,"err":0.342},{"series":"P95","t":2.16,"err":0.335},{"series":"P95","t":2.18,"err":0.26},{"series":"P95","t":2.25,"err":0.26},{"series":"P95","t":2.273,"err":0.23},{"series":"P95","t":2.30,"err":0.356},{"series":"P95","t":2.36,"err":0.39},{"series":"P95","t":2.44,"err":0.40},{"series":"P95","t":2.52,"err":0.41},{"series":"P95","t":2.53,"err":0.37},{"series":"P95","t":2.6,"err":0.40},{"series":"P95","t":2.65,"err":0.36},{"series":"P95","t":2.70,"err":0.31},{"series":"P95","t":2.74,"err":0.28},{"series":"P95","t":2.79,"err":0.32},{"series":"P95","t":2.87,"err":0.31},{"series":"P95","t":2.99,"err":0.325},{"series":"P95","t":3.08,"err":0.34},{"series":"P95","t":3.14,"err":0.34},{"series":"P95","t":3.16,"err":0.23},{"series":"P95","t":3.19,"err":0.2},{"series":"P95","t":3.29,"err":0.205},{"series":"P95","t":3.32,"err":0.345},{"series":"P95","t":3.37,"err":0.325},{"series":"P95","t":3.45,"err":0.33},{"series":"P95","t":3.50,"err":0.30},{"series":"P95","t":3.56,"err":0.30},{"series":"P95","t":3.573,"err":0.135},{"series":"P95","t":3.60,"err":0.20},{"series":"P95","t":3.66,"err":0.205},{"series":"P95","t":3.70,"err":0.31},{"series":"P95","t":3.71,"err":0.20},{"series":"P95","t":3.80,"err":0.194},{"series":"P95","t":3.88,"err":0.19},{"series":"P95","t":3.96,"err":0.20},{"series":"P95","t":4.04,"err":0.20},{"series":"P95","t":4.13,"err":0.21},{"series":"P95","t":4.14,"err":0.154},{"series":"P95","t":4.20,"err":0.145},{"series":"P95","t":4.29,"err":0.14},{"series":"P95","t":4.37,"err":0.12},{"series":"P95","t":4.40,"err":0.15},{"series":"P95","t":4.46,"err":0.16},{"series":"P95","t":4.55,"err":0.15},{"series":"P95","t":4.72,"err":0.15},{"series":"P95","t":4.77,"err":0.20},{"series":"P95","t":4.79,"err":0.145},{"series":"P95","t":4.87,"err":0.16},{"series":"P95","t":4.95,"err":0.16},{"series":"P95","t":5.03,"err":0.15},{"series":"P95","t":5.10,"err":0.13},{"series":"P95","t":5.15,"err":0.16},{"series":"P95","t":5.19,"err":0.13},{"series":"P95","t":5.25,"err":0.155},{"series":"P95","t":5.32,"err":0.13},{"series":"P95","t":5.40,"err":0.145},{"series":"P95","t":5.48,"err":0.125},{"series":"P95","t":5.55,"err":0.14},{"series":"P95","t":5.59,"err":0.135},{"series":"P95","t":5.606,"err":0.26},{"series":"P95","t":5.66,"err":0.26},{"series":"P95","t":5.69,"err":0.27},{"series":"P95","t":5.70,"err":0.27},{"series":"P95","t":5.72,"err":0.09},{"series":"P95","t":5.76,"err":0.14},{"series":"P95","t":5.78,"err":0.09},{"series":"P95","t":5.85,"err":0.14},{"series":"P95","t":5.87,"err":0.27},{"series":"P95","t":5.88,"err":0.25},{"series":"P95","t":5.91,"err":0.25},{"series":"P95","t":5.985,"err":0.12},{"series":"P95","t":6.02,"err":0.16},{"series":"P95","t":6.08,"err":0.15},{"series":"P95","t":6.15,"err":0.15},{"series":"P95","t":6.16,"err":0.19},{"series":"P95","t":6.174,"err":0.09},{"series":"P95","t":6.237,"err":0.23},{"series":"P95","t":6.25,"err":0.145},{"series":"P95","t":6.33,"err":0.14},{"series":"P95","t":6.40,"err":0.135},{"series":"P95","t":6.47,"err":0.13},{"series":"P95","t":6.49,"err":0.13},{"series":"P95","t":6.52,"err":0.205},{"series":"P95","t":6.58,"err":0.21},{"series":"P95","t":6.62,"err":0.225},{"series":"P95","t":6.65,"err":0.20},{"series":"P95","t":6.70,"err":0.21},{"series":"P95","t":6.74,"err":0.19},{"series":"P95","t":6.76,"err":0.135},{"series":"P95","t":6.80,"err":0.13},{"series":"P95","t":6.86,"err":0.26},{"series":"P95","t":6.88,"err":0.15},{"series":"P95","t":6.95,"err":0.165},{"series":"P95","t":7.05,"err":0.15},{"series":"P95","t":7.13,"err":0.155},{"series":"P95","t":7.17,"err":0.18},{"series":"P95","t":7.25,"err":0.145},{"series":"P95","t":7.34,"err":0.16},{"series":"P95","t":7.42,"err":0.195},{"series":"P95","t":7.47,"err":0.165},{"series":"P95","t":7.50,"err":0.165},{"series":"P95","t":7.525,"err":0.09},{"series":"P95","t":7.55,"err":0.12},{"series":"P95","t":7.65,"err":0.12},{"series":"P95","t":7.75,"err":0.125},{"series":"P95","t":7.85,"err":0.11},{"series":"P95","t":7.93,"err":0.115},{"series":"P95","t":7.94,"err":0.16},{"series":"P95","t":7.97,"err":0.13},{"series":"P95","t":8.05,"err":0.12},{"series":"P95","t":8.15,"err":0.11},{"series":"P95","t":8.20,"err":0.125},{"series":"P95","t":8.30,"err":0.13},{"series":"P95","t":8.43,"err":0.13},{"series":"P95","t":8.51,"err":0.12},{"series":"P95","t":8.60,"err":0.15},{"series":"P95","t":8.70,"err":0.155},{"series":"P95","t":8.76,"err":0.16},{"series":"P95","t":8.85,"err":0.145},{"series":"P95","t":8.89,"err":0.165},{"series":"P95","t":8.92,"err":0.15},{"series":"P95","t":9.0,"err":0.15},{"series":"P95","t":9.1,"err":0.14},{"series":"P95","t":9.19,"err":0.14},{"series":"P95","t":9.27,"err":0.15},{"series":"P95","t":9.36,"err":0.13},{"series":"P95","t":9.43,"err":0.12},{"series":"P95","t":9.44,"err":0.09},{"series":"P95","t":9.48,"err":0.165},{"series":"P95","t":9.52,"err":0.11},{"series":"P95","t":9.61,"err":0.14},{"series":"P95","t":9.70,"err":0.16},{"series":"P95","t":9.77,"err":0.17},{"series":"P95","t":9.86,"err":0.16},{"series":"P95","t":9.93,"err":0.15},{"series":"P95","t":9.99,"err":0.14},{"series":"P95","t":10.07,"err":0.145},{"series":"P95","t":10.09,"err":0.205},{"series":"P95","t":10.10,"err":0.145},{"series":"P95","t":10.16,"err":0.14},{"series":"P95","t":10.18,"err":0.20},{"series":"P95","t":10.20,"err":0.14},{"series":"P95","t":10.30,"err":0.14},{"series":"P95","t":10.40,"err":0.135},{"series":"P95","t":10.49,"err":0.13},{"series":"P95","t":10.52,"err":0.11},{"series":"P95","t":10.58,"err":0.12},{"series":"P95","t":10.59,"err":0.225},{"series":"P95","t":10.62,"err":0.22},{"series":"P95","t":10.64,"err":0.20},{"series":"P95","t":10.67,"err":0.21},{"series":"P95","t":10.68,"err":0.32},{"series":"P95","t":10.70,"err":0.13},{"series":"P95","t":10.745,"err":0.12},{"series":"P95","t":10.80,"err":0.115},{"series":"P95","t":10.85,"err":0.11},{"series":"P95","t":10.87,"err":0.22},{"series":"P95","t":10.90,"err":0.21},{"series":"P95","t":10.93,"err":0.17},{"series":"P95","t":10.96,"err":0.2},{"series":"P95","t":11.0,"err":0.175},{"series":"P95","t":11.1,"err":0.175},{"series":"P95","t":11.2,"err":0.18},{"series":"P95","t":11.26,"err":0.175},{"series":"P95","t":11.29,"err":0.27},{"series":"P95","t":11.31,"err":0.17},{"series":"P95","t":11.34,"err":0.16},{"series":"P95","t":11.38,"err":0.22},{"series":"P95","t":11.40,"err":0.17},{"series":"P95","t":11.5,"err":0.17},{"series":"P95","t":11.6,"err":0.165},{"series":"P95","t":11.72,"err":0.17},{"series":"P95","t":11.73,"err":0.235},{"series":"P95","t":11.76,"err":0.15},{"series":"P95","t":11.80,"err":0.13},{"series":"P95","t":11.84,"err":0.12},{"series":"P95","t":11.88,"err":0.14},{"series":"P95","t":11.91,"err":0.25},{"series":"P95","t":11.94,"err":0.19},{"series":"P95","t":11.97,"err":0.175},{"series":"P95","t":12.05,"err":0.165},{"series":"P95","t":12.12,"err":0.16},{"series":"P95","t":12.2,"err":0.155},{"series":"P95","t":12.26,"err":0.18},{"series":"P95","t":12.30,"err":0.135},{"series":"P95","t":12.35,"err":0.125},{"series":"P95","t":12.39,"err":0.11},{"series":"P95","t":12.42,"err":0.14},{"series":"P95","t":12.5,"err":0.135},{"series":"P95","t":12.58,"err":0.135},{"series":"P95","t":12.61,"err":0.19},{"series":"P95","t":12.63,"err":0.13},{"series":"P95","t":12.70,"err":0.14},{"series":"P95","t":12.73,"err":0.18},{"series":"P95","t":12.76,"err":0.12},{"series":"P95","t":12.80,"err":0.11},{"series":"P95","t":12.85,"err":0.14},{"series":"P95","t":12.93,"err":0.13},{"series":"P95","t":13.0,"err":0.125},{"series":"P95","t":13.02,"err":0.18},{"series":"P95","t":13.05,"err":0.13},{"series":"P95","t":13.10,"err":0.175},{"series":"P95","t":13.12,"err":0.125},{"series":"P95","t":13.23,"err":0.125},{"series":"P95","t":13.27,"err":0.187},{"series":"P95","t":13.35,"err":0.19},{"series":"P95","t":13.42,"err":0.185},{"series":"P95","t":13.46,"err":0.25},{"series":"P95","t":13.48,"err":0.19},{"series":"P95","t":13.55,"err":0.197},{"series":"P95","t":13.61,"err":0.195},{"series":"P95","t":13.67,"err":0.175},{"series":"P95","t":13.69,"err":0.243},{"series":"P95","t":13.74,"err":0.125},{"series":"P95","t":13.78,"err":0.19},{"series":"P95","t":13.85,"err":0.19},{"series":"P95","t":13.90,"err":0.19},{"series":"P95","t":13.93,"err":0.11},{"series":"P95","t":14.0,"err":0.10},{"series":"P95","t":14.07,"err":0.10},{"series":"P95","t":14.12,"err":0.125},{"series":"P95","t":14.19,"err":0.10},{"series":"P95","t":14.28,"err":0.11},{"series":"P95","t":14.37,"err":0.11},{"series":"P95","t":14.44,"err":0.14},{"series":"P95","t":14.53,"err":0.145},{"series":"P95","t":14.57,"err":0.187},{"series":"P95","t":14.66,"err":0.175},{"series":"P95","t":14.75,"err":0.197},{"series":"P95","t":14.82,"err":0.20},{"series":"P95","t":14.88,"err":0.18},{"series":"P95","t":14.94,"err":0.175}
 ]
},
"layer": [
 {
  "data": {"name": "runs"},
  "mark": {"type": "line", "clip": true, "color": "#808080", "opacity": 0.45, "strokeWidth": 2.5},
  "encoding": {
   "x": {"field": "t", "type": "quantitative", "scale": {"domain": [0, 14.94], "nice": false, "zero": false}, "axis": {"title": "Time (min)", "values": [0, 2, 4, 6, 8, 10, 12, 14], "format": "d", "labelFlush": false, "labelOverlap": false, "grid": true, "titlePadding": 2}},
   "y": {"field": "err", "type": "quantitative", "scale": {"domain": [0, 1], "nice": false}, "axis": {"title": "Error (m)", "values": [0, 0.2, 0.4, 0.6, 0.8, 1.0], "format": ".1f", "labelFlush": false, "labelOverlap": false, "grid": true, "titlePadding": 8}},
   "detail": {"field": "run", "type": "nominal"}
  }
 },
 {
  "data": {"name": "stats"},
  "mark": {"type": "line", "clip": true, "strokeWidth": 3.8},
  "encoding": {
   "x": {"field": "t", "type": "quantitative", "scale": {"domain": [0, 14.94], "nice": false, "zero": false}},
   "y": {"field": "err", "type": "quantitative", "scale": {"domain": [0, 1], "nice": false}},
   "color": {"field": "series", "type": "nominal", "scale": {"domain": ["RMS", "P95"], "range": ["#000000", "#ff0000"]},
     "legend": {"title": null, "orient": "none", "legendX": 1073, "legendY": 10, "symbolType": "M-1,0H3", "symbolSize": 400, "symbolStrokeWidth": 3, "labelFontSize": 17, "labelFont": "DejaVu Sans", "labelColor": "#000000", "labelOffset": 33, "rowPadding": 8, "padding": 5, "strokeColor": "#cccccc", "fillColor": "#ffffff", "cornerRadius": 4}}
  }
 },
 {
  "data": {"values": [{}]},
  "mark": {"type": "point", "filled": true, "clip": false, "size": 28224, "color": "#E00034", "opacity": 1},
  "encoding": {
   "x": {"datum": -2.02, "type": "quantitative", "scale": {"domain": [0, 14.94], "nice": false, "zero": false}},
   "y": {"datum": 1.004, "type": "quantitative", "scale": {"domain": [0, 1], "nice": false}}
  }
 },
 {
  "data": {"values": [{}]},
  "mark": {"type": "rect", "fill": "#E00034", "stroke": "#E00034", "strokeWidth": 2},
  "encoding": {
   "x": {"datum": 10.4545, "type": "quantitative"}, "x2": {"datum": 15.5},
   "y": {"datum": 0.8242, "type": "quantitative"}, "y2": {"datum": 0.6935}
  }
 },
 {
  "data": {"values": [{}]},
  "mark": {"type": "rect", "fill": "#ffffff", "stroke": "#E00034", "strokeWidth": 2},
  "encoding": {
   "x": {"datum": 10.4545, "type": "quantitative"}, "x2": {"datum": 15.5},
   "y": {"datum": 0.6935, "type": "quantitative"}, "y2": {"datum": 0.5403}
  }
 },
 {
  "data": {"values": [{}]},
  "mark": {"type": "rect", "fill": "#ffffff", "stroke": "#E00034", "strokeWidth": 2},
  "encoding": {
   "x": {"datum": 10.4545, "type": "quantitative"}, "x2": {"datum": 15.5},
   "y": {"datum": 0.5403, "type": "quantitative"}, "y2": {"datum": 0.3871}
  }
 },
 {
  "data": {"values": [{}]},
  "mark": {"type": "text", "text": ["Convergence", "Target"], "font": "DejaVu Sans", "fontWeight": "bold", "fontSize": 30, "color": "#ffffff", "align": "center", "baseline": "alphabetic", "lineHeight": 38},
  "encoding": {
   "x": {"datum": 12.72, "type": "quantitative"},
   "y": {"datum": 0.768, "type": "quantitative"}
  }
 },
 {
  "data": {"values": [{}]},
  "mark": {"type": "text", "text": ["Convergence Time", "RMS"], "font": "DejaVu Sans", "fontWeight": "bold", "fontSize": 30, "color": "#000000", "align": "center", "baseline": "alphabetic", "lineHeight": 38},
  "encoding": {
   "x": {"datum": 12.72, "type": "quantitative"},
   "y": {"datum": 0.6252, "type": "quantitative"}
  }
 },
 {
  "data": {"values": [{}]},
  "mark": {"type": "text", "text": ["Convergence Time", "95%"], "font": "DejaVu Sans", "fontWeight": "bold", "fontSize": 30, "color": "#000000", "align": "center", "baseline": "alphabetic", "lineHeight": 40},
  "encoding": {
   "x": {"datum": 12.72, "type": "quantitative"},
   "y": {"datum": 0.472, "type": "quantitative"}
  }
 }
]
}
